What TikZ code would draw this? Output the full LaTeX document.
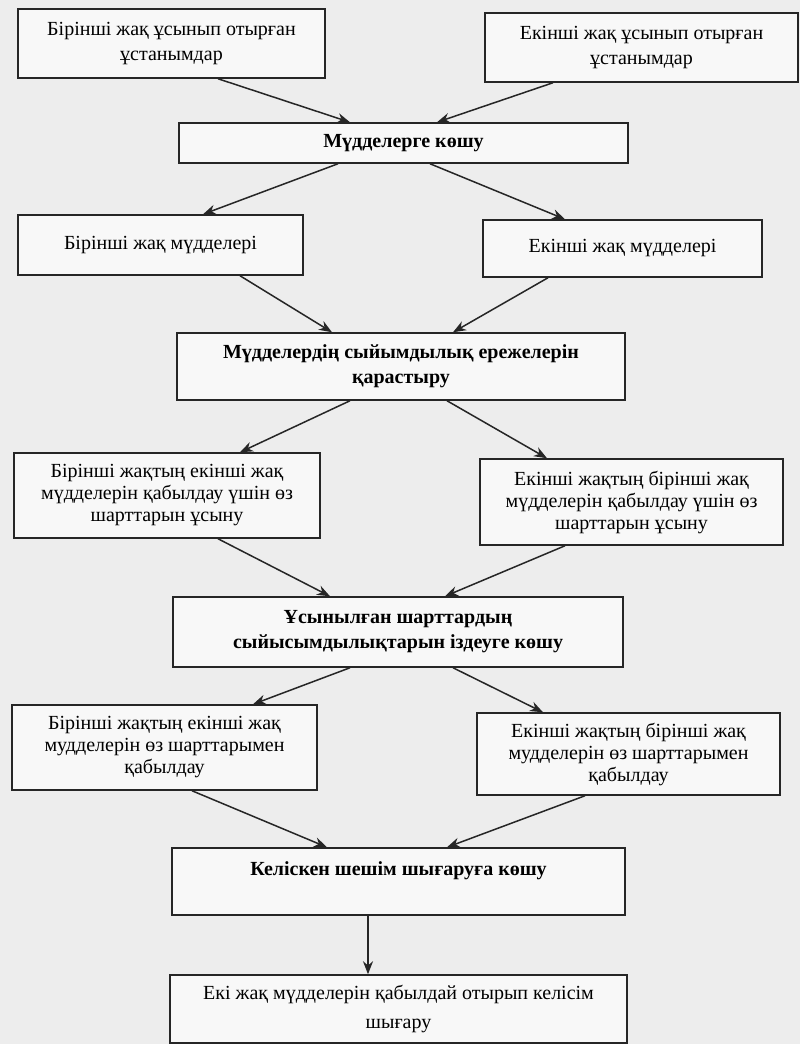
\documentclass[tikz,border=0pt]{standalone}
\usepackage{fontspec}
\setmainfont{Liberation Serif}
\usetikzlibrary{arrows.meta}
\definecolor{paper}{HTML}{EDEDED}
\definecolor{boxfill}{HTML}{F8F8F8}
\definecolor{ink}{HTML}{262626}
\tikzset{
  box/.style={draw=ink, line width=1.5pt, fill=boxfill, rectangle, inner sep=0pt,
    align=center, text=black, font=\fontsize{20}{25}\selectfont},
  tribox/.style={box, font=\fontsize{20}{22}\selectfont},
  boldbox/.style={box, font=\fontsize{20}{25}\selectfont\bfseries},
  arr/.style={draw=ink, line width=1.5pt, -{Stealth[length=13pt,width=10pt]}}
}
\begin{document}
\begin{tikzpicture}[x=1pt,y=-1pt]
\fill[paper] (0,0) rectangle (800,1044);
\useasboundingbox (0,0) rectangle (800,1044);

\node[box, minimum width=307pt, minimum height=69pt] (b1) at (171.5,43.5)
  {Бірінші жақ ұсынып отырған\\ұстанымдар};
\node[box, minimum width=313pt, minimum height=69pt] (b2) at (641.5,47.5)
  {Екінші жақ ұсынып отырған\\ұстанымдар};
\node[boldbox, minimum width=449pt, minimum height=40pt] (b3) at (403.5,143)
  {Мүдделерге көшу};
\node[box, minimum width=285pt, minimum height=60pt] (b4) at (160.5,245)
  {Бірінші жақ мүдделері};
\node[box, minimum width=279pt, minimum height=57pt] (b5) at (622.5,248.5)
  {Екінші жақ мүдделері};
\node[boldbox, minimum width=448pt, minimum height=67pt] (b6) at (401,366.5)
  {Мүдделердің сыйымдылық ережелерін\\қарастыру};
\node[tribox, minimum width=306pt, minimum height=85pt] (b7) at (167,495.5)
  {Бірінші жақтың екінші жақ\\мүдделерін қабылдау үшін өз\\шарттарын ұсыну};
\node[tribox, minimum width=303pt, minimum height=86pt] (b8) at (631.5,502)
  {Екінші жақтың бірінші жақ\\мүдделерін қабылдау үшін өз\\шарттарын ұсыну};
\node[boldbox, minimum width=450pt, minimum height=70pt] (b9) at (398,632)
  {Ұсынылған шарттардың\\сыйысымдылықтарын іздеуге көшу};
\node[tribox, minimum width=305pt, minimum height=85pt] (b10) at (164.5,747.5)
  {Бірінші жақтың екінші жақ\\мудделерін өз шарттарымен\\қабылдау};
\node[tribox, minimum width=303pt, minimum height=82pt] (b11) at (628.5,754)
  {Екінші жақтың бірінші жақ\\мудделерін өз шарттарымен\\қабылдау};
\node[boldbox, minimum width=453pt, minimum height=67pt] (b12) at (398.5,881.5)
  {Келіскен шешім шығаруға көшу\\\mbox{}};
\node[box, minimum width=457pt, minimum height=68pt, font=\fontsize{20}{29}\selectfont] (b13) at (398.5,1009)
  {Екі жақ мүдделерін қабылдай отырып келісім\\шығару};

\draw[arr] ([xshift=46.5pt]b1.south) -- ([xshift=-53.5pt]b3.north);
\draw[arr] ([xshift=-88.5pt]b2.south) -- ([xshift=33.5pt]b3.north);
\draw[arr] ([xshift=-65.5pt]b3.south) -- ([xshift=42.5pt]b4.north);
\draw[arr] ([xshift=26.5pt]b3.south) -- ([xshift=-57.5pt]b5.north);
\draw[arr] ([xshift=79.5pt]b4.south) -- ([xshift=-69pt]b6.north);
\draw[arr] ([xshift=-74.5pt]b5.south) -- ([xshift=52pt]b6.north);
\draw[arr] ([xshift=-51pt]b6.south) -- ([xshift=73pt]b7.north);
\draw[arr] ([xshift=46pt]b6.south) -- ([xshift=-84.5pt]b8.north);
\draw[arr] ([xshift=51pt]b7.south) -- ([xshift=-68pt]b9.north);
\draw[arr] ([xshift=-66.5pt]b8.south) -- ([xshift=47pt]b9.north);
\draw[arr] ([xshift=-48pt]b9.south) -- ([xshift=88.5pt]b10.north);
\draw[arr] ([xshift=55pt]b9.south) -- ([xshift=-85.5pt]b11.north);
\draw[arr] ([xshift=27.5pt]b10.south) -- ([xshift=-71.5pt]b12.north);
\draw[arr] ([xshift=-43.5pt]b11.south) -- ([xshift=48.5pt]b12.north);
\draw[arr] ([xshift=-30.5pt]b12.south) -- ([xshift=-30.5pt]b13.north);
\end{tikzpicture}
\end{document}
